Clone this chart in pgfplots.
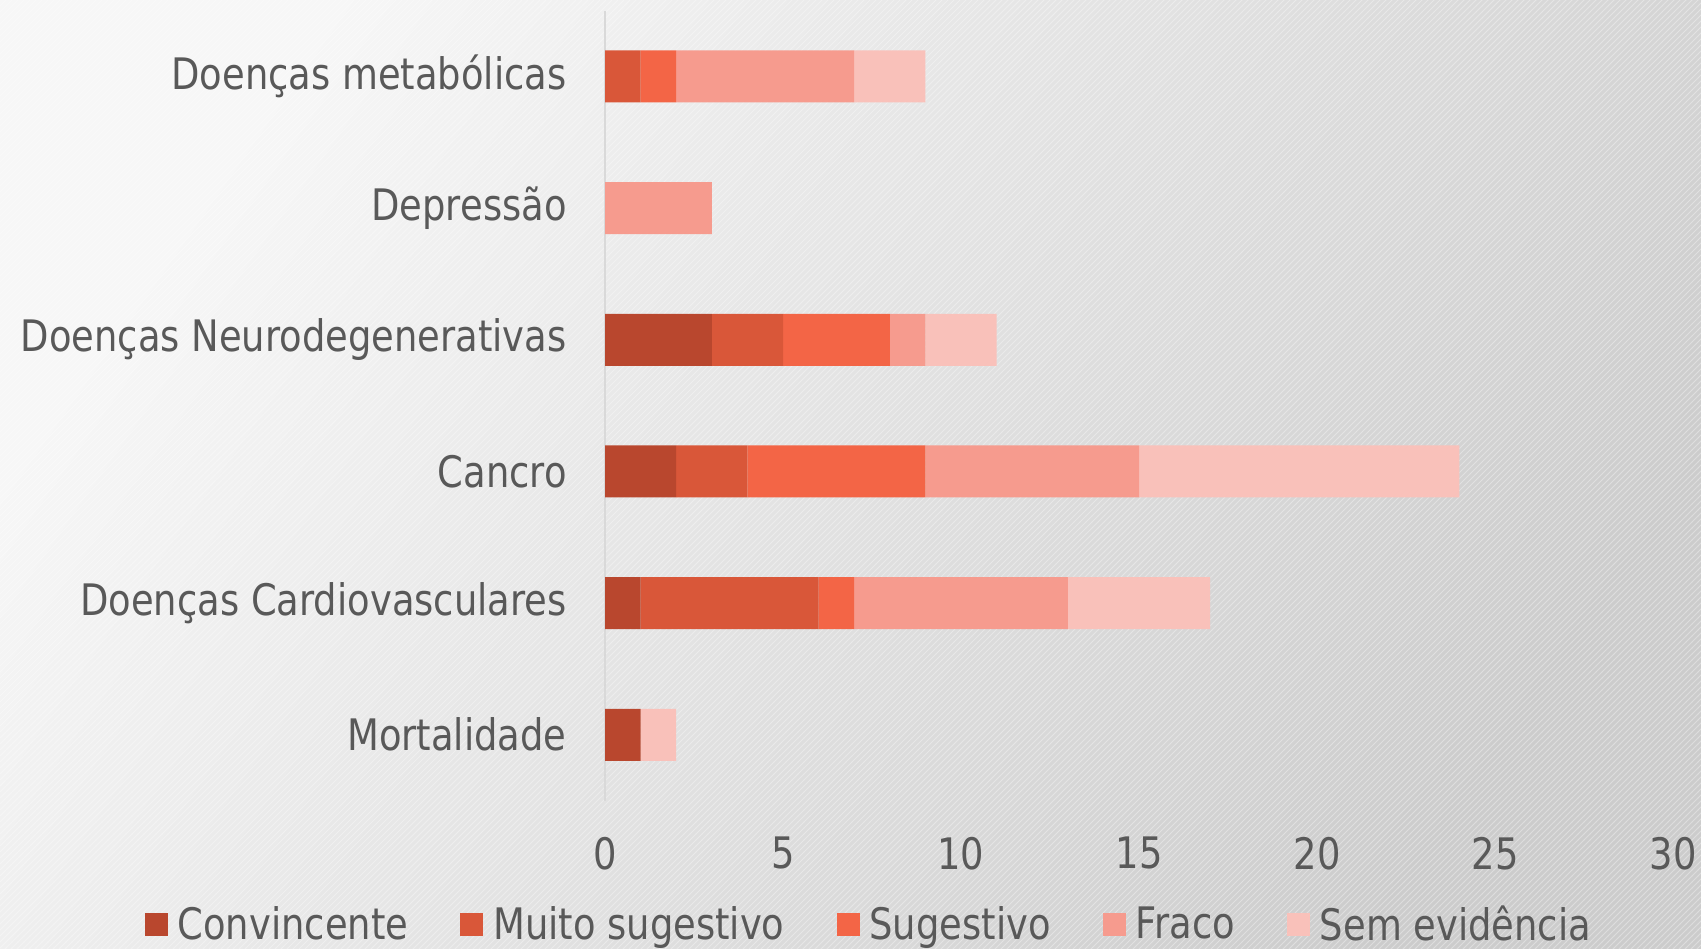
\documentclass[border=0pt]{standalone}
\usepackage{pgfplots}
\pgfplotsset{compat=1.18}
\usepackage{fontspec}
\setmainfont{DejaVu Sans}[FakeStretch=0.85]
\usetikzlibrary{patterns}
\definecolor{cA}{RGB}{185,71,46}
\definecolor{cB}{RGB}{217,87,57}
\definecolor{cC}{RGB}{243,101,70}
\definecolor{cD}{RGB}{246,155,142}
\definecolor{cE}{RGB}{249,193,186}
\definecolor{txt}{RGB}{89,89,89}
\definecolor{axl}{RGB}{217,217,217}
\begin{document}
\begin{tikzpicture}
\shade[left color={rgb,255:red,247;green,247;blue,247}, right color={rgb,255:red,204;green,204;blue,204}, shading angle=55] (0,0) rectangle (850.5pt,474pt);
\fill[pattern=north east lines, pattern color=white, opacity=0.35] (0,0) rectangle (850.5pt,474pt);
\begin{axis}[
  at={(302.5pt,73.7pt)}, anchor=south west,
  scale only axis, width=534pt, height=395pt,
  xbar stacked, bar width=26pt,
  xmin=0, xmax=30, ymin=-0.5, ymax=5.5,
  xtick={0,5,10,15,20,25,30},
  ytick={0,1,2,3,4,5},
  yticklabels={Mortalidade, Doenças Cardiovasculares, Cancro, Doenças Neurodegenerativas, Depressão, Doenças metabólicas},
  major tick length=0pt,
  axis x line*=bottom, axis y line*=left,
  x axis line style={draw=none},
  y axis line style={draw=axl, line width=1pt},
  /pgf/number format/assume math mode=true,
  ticklabel style={font=\fontsize{21.7}{26}\selectfont, text=txt},
  yticklabel style={inner sep=0pt, xshift=-19pt},
  xticklabel style={inner sep=0pt, yshift=-18pt},
  legend columns=5,
  legend style={at={(0.248,-0.157)}, anchor=center, draw=none, fill=none,
    font=\fontsize{21.7}{26}\selectfont, text=txt,
    /tikz/every even column/.append style={column sep=24pt},
    nodes={inner sep=2pt}},
  mylegend/.style={legend image code/.code={\fill[##1, draw=none] (0pt,-5.75pt) rectangle (11.5pt,5.75pt); \path (14.5pt,0pt);}},
]
\addplot[fill=cA, draw=none, mylegend] coordinates {(1,0) (1,1) (2,2) (3,3) (0,4) (0,5)};
\addplot[fill=cB, draw=none, mylegend] coordinates {(0,0) (5,1) (2,2) (2,3) (0,4) (1,5)};
\addplot[fill=cC, draw=none, mylegend] coordinates {(0,0) (1,1) (5,2) (3,3) (0,4) (1,5)};
\addplot[fill=cD, draw=none, mylegend] coordinates {(0,0) (6,1) (6,2) (1,3) (3,4) (5,5)};
\addplot[fill=cE, draw=none, mylegend] coordinates {(1,0) (4,1) (9,2) (2,3) (0,4) (2,5)};
\legend{Convincente, Muito sugestivo, Sugestivo, Fraco, Sem evidência}
\end{axis}
\pgfresetboundingbox
\useasboundingbox (0,0) rectangle (850.5pt,474pt);
\end{tikzpicture}
\end{document}
